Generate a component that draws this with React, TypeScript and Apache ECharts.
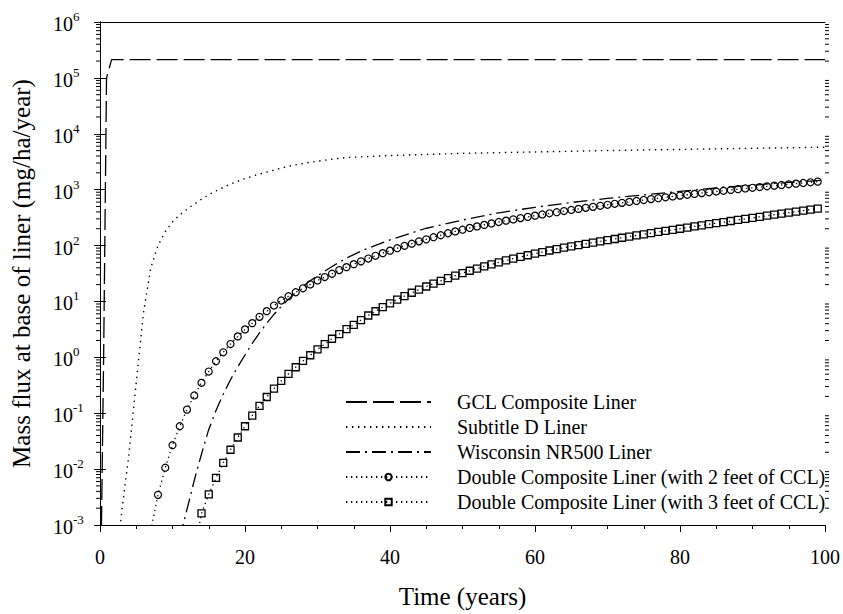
import React, { useEffect, useRef } from 'react';
import * as echarts from 'echarts';

const FONT = "'Liberation Serif', 'Times New Roman', serif";

// GCL Composite Liner (dashed)
const gclYears = [0.1, 0.3, 0.5, 0.7, 0.9, 1.6, 100];
const gclFlux = [1e-4, 0.01, 1, 300, 1e5, 2.12e5, 2.12e5];

// Subtitle D Liner (dotted)
const subDYears = [2, 3, 4, 5, 6, 7, 8, 9, 10, 11, 12, 13, 14, 15, 16, 17, 18, 19, 20, 22, 24, 26, 28, 30, 32, 34, 40, 45, 50, 60, 70, 80, 90, 100];
const subDFlux = [1e-4, 0.00174, 0.019, 0.355, 6.3, 40, 100, 178, 263, 355, 447, 550, 676, 813, 955, 1096, 1259, 1413, 1585, 1905, 2239, 2630, 2951, 3236, 3508, 3758, 4074, 4266, 4467, 4732, 5012, 5248, 5495, 5754];

// Wisconsin NR500 Liner (dash-dot)
const wiYears = [11, 12, 13, 14, 15, 16, 17, 18, 19, 20, 21, 22, 23, 24, 25, 26, 27, 28, 29, 30, 32, 34, 36, 38, 40, 45, 50, 55, 60, 65, 70, 75, 80, 85, 90, 95, 100];
const wiFlux = [0.0006, 0.0019, 0.0063, 0.0186, 0.0513, 0.112, 0.219, 0.398, 0.676, 1.1, 1.78, 2.75, 4.07, 5.89, 8.13, 11.0, 14.5, 18.6, 23.4, 28.8, 42.2, 59.6, 79.4, 101, 126, 204, 286, 386, 484, 589, 697, 807, 933, 1072, 1202, 1349, 1479];

// Double Composite Liner, 2 ft CCL (circles)
const dc2Years = [7, 8, 9, 10, 11, 12, 13, 14, 15, 16, 17, 18, 19, 20, 21, 22, 23, 24, 25, 26, 27, 28, 29, 30, 31, 32, 33, 34, 35, 36, 37, 38, 39, 40, 41, 42, 43, 44, 45, 46, 47, 48, 49, 50, 51, 52, 53, 54, 55, 56, 57, 58, 59, 60, 61, 62, 63, 64, 65, 66, 67, 68, 69, 70, 71, 72, 73, 74, 75, 76, 77, 78, 79, 80, 81, 82, 83, 84, 85, 86, 87, 88, 89, 90, 91, 92, 93, 94, 95, 96, 97, 98, 99];
const dc2Flux = [0.00079, 0.00346, 0.0106, 0.0268, 0.0585, 0.116, 0.208, 0.35, 0.557, 0.851, 1.23, 1.73, 2.37, 3.16, 4.09, 5.3, 6.7, 8.45, 10.4, 12.4, 14.6, 17.2, 20.2, 23.8, 27.3, 31.3, 36.4, 41.1, 46.5, 52.2, 58.6, 65.6, 73.1, 81.1, 89.7, 98.9, 108, 119, 129, 141, 153, 166, 179, 192, 207, 220, 234, 249, 264, 279, 294, 310, 326, 343, 360, 378, 395, 414, 434, 453, 473, 493, 514, 536, 559, 581, 604, 628, 653, 678, 703, 730, 757, 783, 811, 840, 869, 897, 927, 957, 989, 1019, 1050, 1081, 1114, 1148, 1180, 1213, 1247, 1282, 1318, 1355, 1393];

// Double Composite Liner, 3 ft CCL (squares)
const dc3Years = [13, 14, 15, 16, 17, 18, 19, 20, 21, 22, 23, 24, 25, 26, 27, 28, 29, 30, 31, 32, 33, 34, 35, 36, 37, 38, 39, 40, 41, 42, 43, 44, 45, 46, 47, 48, 49, 50, 51, 52, 53, 54, 55, 56, 57, 58, 59, 60, 61, 62, 63, 64, 65, 66, 67, 68, 69, 70, 71, 72, 73, 74, 75, 76, 77, 78, 79, 80, 81, 82, 83, 84, 85, 86, 87, 88, 89, 90, 91, 92, 93, 94, 95, 96, 97, 98, 99];
const dc3Flux = [0.00032, 0.00161, 0.00352, 0.00695, 0.0129, 0.0222, 0.0368, 0.0585, 0.0906, 0.135, 0.195, 0.275, 0.38, 0.507, 0.665, 0.863, 1.09, 1.39, 1.73, 2.15, 2.61, 3.2, 3.82, 4.65, 5.6, 6.68, 7.91, 9.27, 10.8, 12.5, 14.3, 16.3, 18.5, 20.8, 23.4, 26.1, 29.0, 32.1, 35.4, 38.8, 42.4, 46.1, 50.0, 54.1, 58.3, 62.7, 67.1, 71.8, 76.6, 81.5, 86.5, 91.6, 96.8, 102, 107, 113, 119, 125, 131, 138, 145, 152, 159, 167, 175, 183, 191, 200, 210, 220, 230, 241, 252, 263, 275, 287, 300, 313, 327, 342, 357, 372, 388, 405, 422, 440, 458];

// axis ticks
const xMin = 0;
const xMax = 100;
const xInterval = 20;
const yMin = 1e-3;
const yMax = 1e6;
const minorMantissas = [2, 3, 4, 5, 6, 7, 8, 9];
const minorDecades = [-3, -2, -1, 0, 1, 2, 3, 4, 5];

const seriesNames = [
  'GCL Composite Liner',
  'Subtitle D Liner',
  'Wisconsin NR500 Liner',
  'Double Composite Liner (with 2 feet of CCL)',
  'Double Composite Liner (with 3 feet of CCL)',
];

const zip = (xs: number[], ys: number[]) => xs.map((x, i) => [x, ys[i]]);
const noMark = { color: 'rgba(0,0,0,0)', borderColor: 'rgba(0,0,0,0)', borderWidth: 0, opacity: 0 };

export default function App() {
  const ref = useRef<HTMLDivElement>(null);
  useEffect(() => {
    if (!ref.current) return;
    const chart = echarts.init(ref.current, null, { renderer: 'svg' });
    const minorTicks: number[][] = [];
    minorDecades.forEach((d) => minorMantissas.forEach((m) => minorTicks.push([0, m * Math.pow(10, d)])));

    const lineBase = { type: 'line', showSymbol: false, symbol: 'none', clip: true, color: '#000' } as any;

    chart.setOption({
      animation: false,
      backgroundColor: '#fff',
      textStyle: { fontFamily: FONT, color: '#000' },
      grid: { left: 100, right: 17, top: 22, bottom: 86 },
      legend: {
        data: [
          { name: seriesNames[0], itemStyle: noMark },
          { name: seriesNames[1], itemStyle: noMark },
          { name: seriesNames[2], itemStyle: noMark },
          { name: seriesNames[3] },
          { name: seriesNames[4] },
        ],
        orient: 'vertical',
        left: 340,
        top: 387,
        itemWidth: 85,
        itemHeight: 8,
        itemGap: 5,
        textStyle: { fontFamily: FONT, fontSize: 20, color: '#000', padding: [0, 0, 0, 21] },
        selectedMode: false,
      },
      xAxis: [
        {
          type: 'value',
          min: xMin,
          max: xMax,
          interval: xInterval,
          name: 'Time (years)',
          nameLocation: 'middle',
          nameGap: 59,
          nameTextStyle: { fontFamily: FONT, fontSize: 25, color: '#000' },
          axisLine: { show: true, lineStyle: { color: '#000', width: 1 } },
          axisTick: { show: true, length: 7, lineStyle: { color: '#000' } },
          minorTick: { show: true, splitNumber: 4, length: 4, lineStyle: { color: '#000' } },
          axisLabel: { fontFamily: FONT, fontSize: 20, color: '#000', margin: 22 },
          splitLine: { show: false },
        },
        {
          type: 'value',
          position: 'top',
          min: xMin,
          max: xMax,
          axisLine: { show: true, onZero: false, lineStyle: { color: '#000', width: 1 } },
          axisTick: { show: false },
          axisLabel: { show: false },
          splitLine: { show: false },
        },
      ],
      yAxis: [
        {
          type: 'log',
          logBase: 10,
          min: yMin,
          max: yMax,
          interval: 1,
          name: 'Mass flux at base of liner (mg/ha/year)',
          nameLocation: 'middle',
          nameGap: 66,
          nameTextStyle: { fontFamily: FONT, fontSize: 25, color: '#000' },
          axisLine: { show: true, lineStyle: { color: '#000', width: 1 } },
          axisTick: { show: true, length: 6, lineStyle: { color: '#000' } },
          axisLabel: {
            align: 'left',
            margin: 47,
            formatter: (v: number) => `{b|10}{s|${Math.round(Math.log10(v))}}`,
            rich: {
              b: { fontFamily: FONT, fontSize: 20, color: '#000', lineHeight: 24, verticalAlign: 'bottom' },
              s: { fontFamily: FONT, fontSize: 13, color: '#000', lineHeight: 13, verticalAlign: 'top' },
            },
          },
          splitLine: { show: false },
        },
        {
          type: 'log',
          logBase: 10,
          min: yMin,
          max: yMax,
          interval: 1,
          position: 'right',
          axisLine: { show: true, lineStyle: { color: '#000', width: 1 } },
          axisTick: { show: true, length: 6, lineStyle: { color: '#000' } },
          axisLabel: { show: false },
          splitLine: { show: false },
        },
      ],
      series: [
        {
          ...lineBase,
          name: seriesNames[0],
          data: zip(gclYears, gclFlux),
          lineStyle: { color: '#000', width: 1.3, type: [21, 6] },
        },
        {
          ...lineBase,
          name: seriesNames[1],
          data: zip(subDYears, subDFlux),
          lineStyle: { color: '#000', width: 1.4, type: [1.4, 4.6] },
        },
        {
          ...lineBase,
          name: seriesNames[2],
          data: zip(wiYears, wiFlux),
          lineStyle: { color: '#000', width: 1.3, type: [14, 5, 2, 5] },
        },
        {
          type: 'line',
          name: seriesNames[3],
          data: zip(dc2Years, dc2Flux),
          symbol: 'circle',
          symbolSize: 7,
          showSymbol: true,
          clip: true,
          color: '#000',
          itemStyle: { color: 'rgba(255,255,255,0)', borderColor: '#000', borderWidth: 1.2 },
          lineStyle: { color: '#000', width: 1.3, type: [1.3, 3.7] },
        },
        {
          type: 'line',
          name: seriesNames[4],
          data: zip(dc3Years, dc3Flux),
          symbol: 'rect',
          symbolSize: 7,
          showSymbol: true,
          clip: true,
          color: '#000',
          itemStyle: { color: 'rgba(255,255,255,0)', borderColor: '#000', borderWidth: 1.3 },
          lineStyle: { color: '#000', width: 1.3, type: [1.3, 3.7] },
        },
        {
          type: 'custom',
          name: 'minorTicks',
          data: minorTicks,
          clip: false,
          silent: true,
          encode: { x: 0, y: 1 },
          renderItem: (params: any, api: any) => {
            const v = api.value(1);
            const pl = api.coord([xMin, v]);
            const pr = api.coord([xMax, v]);
            return {
              type: 'group',
              children: [
                { type: 'line', shape: { x1: pl[0] - 4, y1: pl[1], x2: pl[0], y2: pl[1] }, style: { stroke: '#000', lineWidth: 1 } },
                { type: 'line', shape: { x1: pr[0], y1: pr[1], x2: pr[0] + 4, y2: pr[1] }, style: { stroke: '#000', lineWidth: 1 } },
              ],
            };
          },
        },
      ],
    });
    return () => chart.dispose();
  }, []);
  return <div ref={ref} style={{ position: 'absolute', left: 0, top: 0, width: 843, height: 614 }} />;
}
